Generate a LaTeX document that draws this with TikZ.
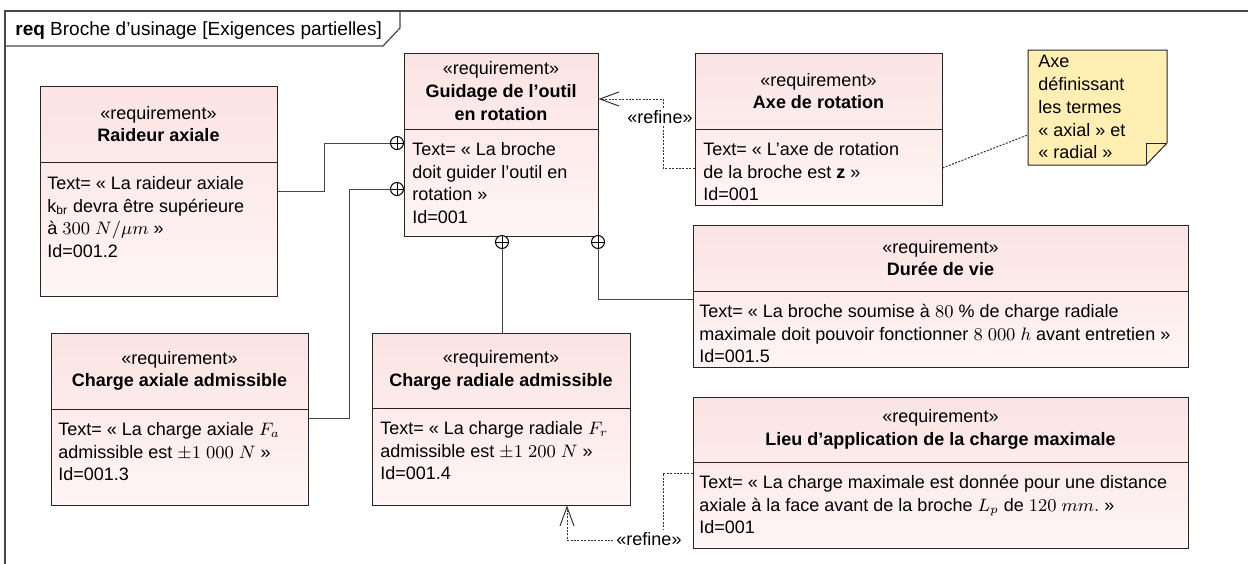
\documentclass[tikz,border=0pt]{standalone}
\usepackage{fontspec}
\setmainfont{Liberation Sans}
\usetikzlibrary{arrows.meta,fit}
\definecolor{pinkA}{RGB}{251,227,227}
\definecolor{pinkB}{RGB}{255,245,245}
\definecolor{noteY}{RGB}{255,239,178}
\definecolor{lineG}{RGB}{70,70,70}
\begin{document}
\begin{tikzpicture}[x=0.5pt,y=-0.5pt,
  font=\fontsize{9pt}{11.3pt}\selectfont,
  reqbox/.style={draw=black!85, line width=0.5pt, top color=pinkA, bottom color=pinkB, inner sep=0pt},
  divline/.style={draw=black!85, line width=0.5pt},
  hdr/.style={align=center, inner sep=0pt},
  bodytxt/.style={align=left, anchor=north west, inner sep=0pt},
  contain/.style={circle, draw=black, fill=white, minimum size=6.5pt, inner sep=0pt, line width=0.5pt,
    path picture={\draw[line width=0.5pt] (path picture bounding box.north) -- (path picture bounding box.south)
      (path picture bounding box.west) -- (path picture bounding box.east);}},
  conn/.style={draw=lineG, line width=0.5pt},
  refineconn/.style={draw=black!80, line width=0.5pt, dash pattern=on 1pt off 0.7pt,
    -{Straight Barb[length=9.5pt,width=7pt]}},
  noteconn/.style={draw=black!80, line width=0.5pt, dash pattern=on 1pt off 0.7pt},
  lbl/.style={fill=white, inner sep=1pt},
  framel/.style={draw=lineG, line width=0.6pt}
]
\useasboundingbox (0,0) rectangle (1248,563);
% frame
\draw[framel] (1252,11) -- (5,11) -- (5,567);
\draw[framel] (5,46) -- (383,46) -- (400,28) -- (400,11);
\node[anchor=west, inner sep=0pt, font=\fontsize{9.5pt}{11.5pt}\selectfont] (title) at (15,31) {\textbf{req} Broche d’usinage [Exigences partielles]};

% Raideur axiale
\node[reqbox, fit={(40,86) (277,296)}] (rA) {};
\draw[divline] (40,162) -- (277,162);
\node[hdr] (rAh) at (158.5,124) {«requirement»\\\textbf{Raideur axiale}};
\node[bodytxt] (rAb) at (47,176) {Text= « La raideur axiale\\k\textsubscript{br} devra être supérieure\\à $300\ N/\mu m$ »\\Id=001.2};

% Guidage
\node[reqbox, fit={(404,53) (598,236)}] (rG) {};
\draw[divline] (404,129) -- (598,129);
\node[hdr] (rGh) at (501,91) {«requirement»\\\textbf{Guidage de l’outil}\\\textbf{en rotation}};
\node[bodytxt] (rGb) at (412,142) {Text= « La broche\\doit guider l’outil en\\rotation »\\Id=001};

% Axe de rotation
\node[reqbox, fit={(695,53) (942,205)}] (rX) {};
\draw[divline] (695,129) -- (942,129);
\node[hdr] (rXh) at (818.5,91) {«requirement»\\\textbf{Axe de rotation}};
\node[bodytxt] (rXb) at (703,142) {Text= « L’axe de rotation\\de la broche est \textbf{z} »\\Id=001};

% Note
\node[fit={(1028,50) (1167,165)}, inner sep=0pt] (nt) {};
\draw[draw=black!85, line width=0.5pt, fill=noteY] (1028,50) -- (1167,50) -- (1167,143) -- (1146,165) -- (1028,165) -- cycle;
\draw[draw=black!85, line width=0.5pt] (1146,165) -- (1146,143) -- (1167,143);
\node[bodytxt, font=\fontsize{9pt}{11.4pt}\selectfont] (ntt) at (1038,55) {Axe\\définissant\\les termes\\« axial » et\\« radial »};

% Duree de vie
\node[reqbox, fit={(693,225) (1188,367)}] (rD) {};
\draw[divline] (693,291) -- (1188,291);
\node[hdr] (rDh) at (940.5,258) {«requirement»\\\textbf{Durée de vie}};
\node[bodytxt] (rDb) at (699,304) {Text= « La broche soumise à $80\ \%$ de charge radiale\\maximale doit pouvoir fonctionner $8\ 000\ h$ avant entretien »\\Id=001.5};

% Charge axiale
\node[reqbox, fit={(51,333) (308,505)}] (rCA) {};
\draw[divline] (51,409) -- (308,409);
\node[hdr] (rCAh) at (179.5,371) {«requirement»\\\textbf{Charge axiale admissible}};
\node[bodytxt] (rCAb) at (58,422) {Text= « La charge axiale $F_a$\\admissible est $\pm1\ 000\ N$ »\\Id=001.3};

% Charge radiale
\node[reqbox, fit={(372,333) (630,505)}] (rCR) {};
\draw[divline] (372,408) -- (630,408);
\node[hdr] (rCRh) at (501,370.5) {«requirement»\\\textbf{Charge radiale admissible}};
\node[bodytxt] (rCRb) at (380,421) {Text= « La charge radiale $F_r$\\admissible est $\pm1\ 200\ N$ »\\Id=001.4};

% Lieu d'application
\node[reqbox, fit={(693,397) (1188,548)}] (rL) {};
\draw[divline] (693,462) -- (1188,462);
\node[hdr] (rLh) at (940.5,429.5) {«requirement»\\\textbf{Lieu d’application de la charge maximale}};
\node[bodytxt] (rLb) at (699,475) {Text= « La charge maximale est donnée pour une distance\\axiale à la face avant de la broche $L_p$ de $120\ mm.$ »\\Id=001};

% containment circles
\node[contain] (k1) at (397,143) {};
\node[contain] (k2) at (397,189) {};
\node[contain] (k3) at (502,242) {};
\node[contain] (k4) at (598,242) {};

% containment connectors
\draw[conn] (rA.east |- 0,191) -- (324,191) |- (k1.west);
\draw[conn] (rCA.east |- 0,418) -- (349,418) |- (k2.west);
\draw[conn] (k3.south) -- (k3.south |- rCR.north);
\draw[conn] (k4.south) |- (rD.west |- 0,299);

% refine Axe -> Guidage
\draw[refineconn] (rX.west |- 0,168) -- (663,168) |- (rG.east |- 0,99);
\node[lbl] (ref1) at (660,117) {«refine»};

% refine Lieu -> Charge radiale
\draw[refineconn] (rL.west |- 0,473) -- (663,473) -- (663,540) -| (rCR.south -| 567,0);
\node[lbl] (ref2) at (649,539) {«refine»};

% note connector
\draw[noteconn] (rX.east |- 0,168) -- (nt.west |- 0,135);
\end{tikzpicture}
\end{document}
